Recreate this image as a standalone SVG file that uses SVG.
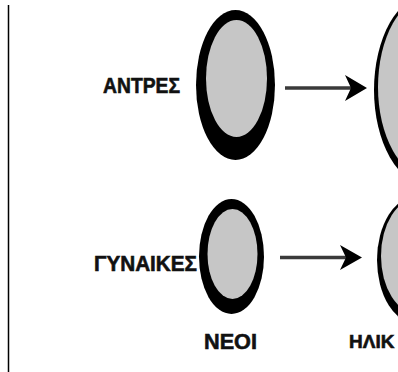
<svg xmlns="http://www.w3.org/2000/svg" width="398" height="372" viewBox="0 0 398 372">
  <style>
    .lbl { font-family: "Liberation Sans", Arial, sans-serif; font-weight: bold; font-size: 22px; fill: #111; stroke: #111; stroke-width: 0.6; }
    .rim { fill: #000; }
    .core { fill: #c6c6c6; }
    .shaft { stroke: #3a3a3a; stroke-width: 3.5; fill: none; }
    .head { fill: #000; }
  </style>

  <!-- left margin rule -->
  <line x1="8.5" y1="5" x2="8.5" y2="372" stroke="#000" stroke-width="1.5"/>

  <!-- men, young -->
  <g id="men-young">
    <ellipse class="rim" cx="235.5" cy="85" rx="39.5" ry="75"/>
    <ellipse class="core" cx="236.5" cy="78.5" rx="30.5" ry="58.5"/>
  </g>

  <!-- men, older (runs off the right edge) -->
  <g id="men-old">
    <ellipse class="rim" cx="428" cy="90" rx="54" ry="95"/>
    <ellipse class="core" cx="429" cy="87" rx="51" ry="90"/>
  </g>

  <!-- women, young -->
  <g id="women-young">
    <ellipse class="rim" cx="231.5" cy="256.5" rx="32.5" ry="57.5"/>
    <ellipse class="core" cx="232.5" cy="254" rx="25" ry="45"/>
  </g>

  <!-- women, older (runs off the right edge) -->
  <g id="women-old">
    <ellipse class="rim" cx="417" cy="260" rx="40" ry="64"/>
    <ellipse class="core" cx="418" cy="256" rx="37" ry="58"/>
  </g>

  <!-- labels -->
  <g id="labels">
    <text class="lbl" x="103" y="93" textLength="77" lengthAdjust="spacingAndGlyphs">ΑΝΤΡΕΣ</text>
    <text class="lbl" x="94" y="271" textLength="103" lengthAdjust="spacingAndGlyphs">ΓΥΝΑΙΚΕΣ</text>
    <text class="lbl" x="204" y="349" textLength="53" lengthAdjust="spacingAndGlyphs">ΝΕΟΙ</text>
    <text class="lbl" x="349" y="348" style="font-size:19px">ΗΛΙΚ</text>
  </g>

  <!-- connectors -->
  <g id="connectors">
    <line class="shaft" x1="285" y1="88" x2="352" y2="88"/>
    <path class="head" d="M367,88 L345,75 L351,88 L345,101 Z"/>
    <line class="shaft" x1="280" y1="257.5" x2="347" y2="257.5"/>
    <path class="head" d="M362,257.5 L340,245 L346,257.5 L340,270 Z"/>
  </g>
</svg>
